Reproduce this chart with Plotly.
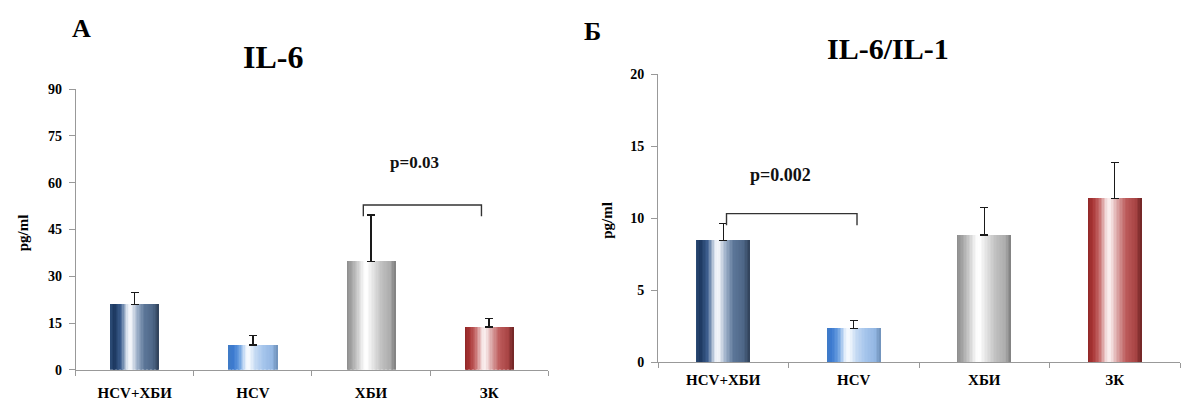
import plotly.graph_objects as go

# ---------------- data ----------------
categories = ["HCV+ХБИ", "HCV", "ХБИ", "ЗК"]
il6_values = [21.0, 7.9, 34.8, 13.7]
il6_errors = [3.7, 3.2, 14.9, 2.8]
ratio_values = [8.47, 2.37, 8.85, 11.37]
ratio_errors = [1.16, 0.55, 1.90, 2.53]
il6_ticks = [0, 15, 30, 45, 60, 75, 90]
ratio_ticks = [0, 5, 10, 15, 20]
il6_comparison = (2, 3, "p=0.03")
ratio_comparison = (0, 1, "p=0.002")
panel_letters = ["А", "Б"]
panel_titles = ["IL-6", "IL-6/IL-1"]
y_title = "pg/ml"

# ---------------- style ----------------
W, H = 1183, 407
FONT = "Liberation Serif, Times New Roman, serif"
BAR_W = 0.41
N_STRIPS = 36

gradients = [
    [(0, "#2d4d78"), (0.08, "#1b365e"), (0.22, "#3e6090"), (0.36, "#e8eef6"), (0.42, "#f6f8fb"),
     (0.55, "#9fb2ca"), (0.70, "#5c7698"), (0.88, "#4e6788"), (1, "#2f4058")],
    [(0, "#3f7bc6"), (0.10, "#3c7ad0"), (0.22, "#6a9fe0"), (0.36, "#eef5fd"), (0.42, "#f8fbff"),
     (0.55, "#c6dbf3"), (0.72, "#a6c5ec"), (0.90, "#93b7e3"), (1, "#6e8fb8")],
    [(0, "#8c8c8c"), (0.10, "#a3a3a3"), (0.22, "#c9c9c9"), (0.36, "#fbfbfb"), (0.42, "#ffffff"),
     (0.55, "#e2e2e2"), (0.72, "#c0c0c0"), (0.90, "#acacac"), (1, "#7e7e7e")],
    [(0, "#8e2626"), (0.10, "#a83434"), (0.22, "#c46868"), (0.36, "#f6e4e4"), (0.42, "#fbf1f1"),
     (0.55, "#dca8a8"), (0.72, "#bc5a5a"), (0.90, "#a84444"), (1, "#6e2424")],
]


def hex2rgb(h):
    h = h.lstrip("#")
    return [int(h[i:i + 2], 16) for i in (0, 2, 4)]


def interp(stops, t):
    for (t0, c0), (t1, c1) in zip(stops[:-1], stops[1:]):
        if t0 <= t <= t1:
            f = 0 if t1 == t0 else (t - t0) / (t1 - t0)
            a, b = hex2rgb(c0), hex2rgb(c1)
            r = [round(a[i] + (b[i] - a[i]) * f) for i in range(3)]
            return "rgb(%d,%d,%d)" % tuple(r)
    return stops[-1][1]


def px_dom(a, b, total):
    return [a / total, b / total]


panels = [
    dict(values=il6_values, errors=il6_errors, ticks=il6_ticks, comp=il6_comparison,
         xdom=px_dom(75.7, 548.2, W), ydom=[1 - 376.7 / H, 1 - 85.3 / H],
         letter_xy=(81, 22), title_xy=(273, 52), title_size=32,
         ytitle_xy=(23, 235), standoff=9, bx_shift=-0.065, ptext_dx=-0.07, ptext_dy=0.15,
         psize=17),
    dict(values=ratio_values, errors=ratio_errors, ticks=ratio_ticks, comp=ratio_comparison,
         xdom=px_dom(658, 1180, W), ydom=[1 - 369 / H, 1 - 70 / H],
         letter_xy=(592, 25), title_xy=(888, 43), title_size=30,
         ytitle_xy=(607, 222), standoff=4, bx_shift=0.025, ptext_dx=-0.09, ptext_dy=0.135,
         psize=18),
]

fig = go.Figure()
annotations = []
shapes = []

for pi, p in enumerate(panels):
    xa = "x" if pi == 0 else "x2"
    ya = "y" if pi == 0 else "y2"
    sw = BAR_W / N_STRIPS
    for k in range(N_STRIPS):
        t = (k + 0.5) / N_STRIPS
        fig.add_trace(go.Bar(
            x=categories, y=p["values"], xaxis=xa, yaxis=ya,
            width=sw * 1.08, offset=-BAR_W / 2 + k * sw,
            marker=dict(color=[interp(g, t) for g in gradients], line=dict(width=0)),
            showlegend=False, hoverinfo="skip"))
    fig.add_trace(go.Bar(
        x=categories, y=p["values"], xaxis=xa, yaxis=ya, width=BAR_W,
        marker=dict(color="rgba(0,0,0,0)", line=dict(width=0)), showlegend=False,
        error_y=dict(type="data", array=p["errors"], arrayminus=[0] * len(p["errors"]),
                     symmetric=False, color="#1a1a1a", thickness=1.4, width=4)))

    ymax = p["ticks"][-1]
    i1, i2, ptxt = p["comp"]
    top = max(p["values"][i1] + p["errors"][i1], p["values"][i2] + p["errors"][i2])
    by = top + 0.035 * ymax
    leg = 0.04 * ymax
    x1 = i1 + p["bx_shift"]
    x2 = i2 + p["bx_shift"]
    shapes.append(dict(type="path", xref=xa, yref=ya,
                       path=f"M {x1},{by - leg} L {x1},{by} L {x2},{by} L {x2},{by - leg}",
                       line=dict(color="#333333", width=1.4)))
    annotations.append(dict(x=(x1 + x2) / 2 + p["ptext_dx"], y=by + p["ptext_dy"] * ymax,
                            xref=xa, yref=ya, text=f"<b>{ptxt}</b>", showarrow=False,
                            xanchor="center", yanchor="middle",
                            font=dict(family=FONT, size=p["psize"], color="#111")))

    lx, ly = p["letter_xy"]
    annotations.append(dict(x=lx / W, y=1 - ly / H, xref="paper", yref="paper",
                            text=f"<b>{panel_letters[pi]}</b>", showarrow=False,
                            xanchor="center", yanchor="middle",
                            font=dict(family=FONT, size=26, color="#000")))
    tx, ty = p["title_xy"]
    annotations.append(dict(x=tx / W, y=1 - ty / H, xref="paper", yref="paper",
                            text=f"<b>{panel_titles[pi]}</b>", showarrow=False,
                            xanchor="center", yanchor="middle",
                            font=dict(family=FONT, size=p["title_size"], color="#000")))
    yx, yy = p["ytitle_xy"]
    annotations.append(dict(x=yx / W, y=1 - yy / H, xref="paper", yref="paper",
                            text=f"<b>{y_title}</b>", showarrow=False, textangle=-90,
                            xanchor="center", yanchor="middle",
                            font=dict(family=FONT, size=15, color="#000")))

    xkey = "xaxis" if pi == 0 else "xaxis2"
    ykey = "yaxis" if pi == 0 else "yaxis2"
    fig.update_layout({
        xkey: dict(domain=p["xdom"], anchor=ya, type="category", range=[-0.5, 3.5],
                   showline=True, linecolor="#999999", linewidth=1, showgrid=False,
                   ticks="outside", tickson="boundaries", ticklen=5, tickcolor="#999999",
                   ticklabelstandoff=p["standoff"],
                   tickfont=dict(family=FONT, size=15, color="#000", weight="bold"),
                   fixedrange=True),
        ykey: dict(domain=p["ydom"], anchor=xa, range=[0, ymax], tickvals=p["ticks"],
                   showline=True, linecolor="#999999", linewidth=1, showgrid=False,
                   zeroline=False, ticks="outside", ticklen=6, tickcolor="#999999",
                   ticklabelstandoff=4,
                   tickfont=dict(family=FONT, size=14, color="#000", weight="bold"),
                   fixedrange=True),
    })

fig.update_layout(
    width=W, height=H, margin=dict(l=0, r=0, t=0, b=0),
    paper_bgcolor="white", plot_bgcolor="white", barmode="overlay", bargap=0,
    annotations=annotations, shapes=shapes, showlegend=False, hovermode=False,
)

fig.write_html("out.html", config={"displayModeBar": False},
               post_script="document.body.style.margin='0';")
